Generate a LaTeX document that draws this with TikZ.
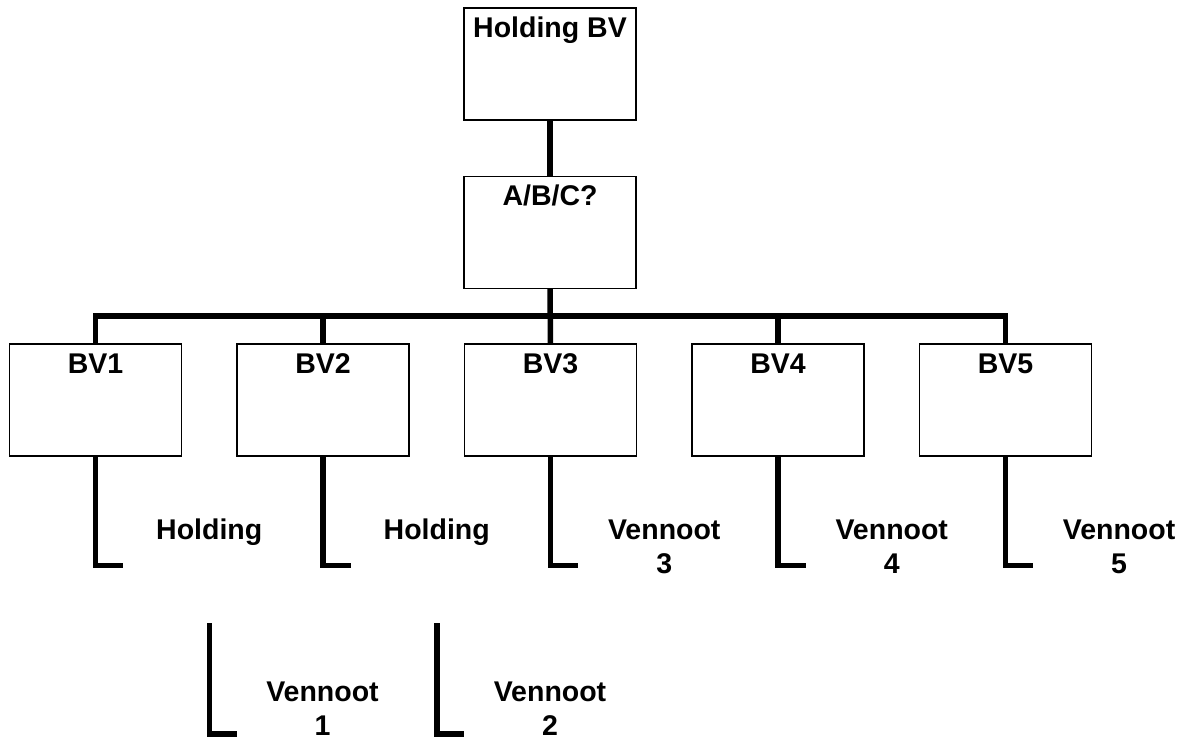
\documentclass[tikz,border=0pt]{standalone}
\usepackage{fontspec}
\setmainfont{Liberation Sans}
\usepackage{tikz}
\begin{document}
\begin{tikzpicture}[x=1pt,y=-1pt,
  company/.style={rectangle,draw=black,line width=1.4pt,minimum width=172pt,inner sep=0pt,
    text height=29pt,text depth=83pt,font=\fontsize{28.5}{34}\selectfont\bfseries},
  owner/.style={align=center,inner sep=0pt,anchor=base,font=\fontsize{28.5}{34}\selectfont\bfseries},
  link/.style={line width=5.5pt}]
\useasboundingbox (0,0) rectangle (1188,742);
% Companies
\node at (550,64) [company] (Top) {Holding BV};
\node at (550,232.5) [company] (ABC) {A/B/C?};
\node at (95.5,400) [company] (BV1) {BV1};
\node at (323,400) [company] (BV2) {BV2};
\node at (550.5,400) [company] (BV3) {BV3};
\node at (778,400) [company] (BV4) {BV4};
\node at (1005.5,400) [company] (BV5) {BV5};
% Owner Labels (base = last line)
\node at (209.25,539) [owner] (Hold1) {Holding};
\node at (436.75,539) [owner] (Hold2) {Holding};
\node at (664.25,573) [owner] (Ven3) {Vennoot\\3};
\node at (891.75,573) [owner] (Ven4) {Vennoot\\4};
\node at (1119,573) [owner] (Ven5) {Vennoot\\5};
\node at (322.5,735) [owner] (Ven1) {Vennoot\\1};
\node at (550,735) [owner] (Ven2) {Vennoot\\2};
% Free Ends
\coordinate (Bus) at (550,316);
\coordinate (Leg1) at (Hold1.base |- 0,623);
\coordinate (Leg2) at (Hold2.base |- 0,623);
% Node Connections
\draw [link] (Top) -- (ABC);
\draw [link] (ABC) -- (BV3);
\draw [link] (BV1.north) |- (Bus) -| (BV5.north);
\draw [link] (BV2.north) -- (BV2.north |- Bus);
\draw [link] (BV4.north) -- (BV4.north |- Bus);
\draw [link] (BV1.south) -- ++(0,109) -- ++(27.5,0);
\draw [link] (BV2.south) -- ++(0,109) -- ++(27.5,0);
\draw [link] (BV3.south) -- ++(0,109) -- ++(27.5,0);
\draw [link] (BV4.south) -- ++(0,109) -- ++(27.5,0);
\draw [link] (BV5.south) -- ++(0,109) -- ++(27.5,0);
\draw [link] (Leg1) -- ++(0,111) -- ++(27.5,0);
\draw [link] (Leg2) -- ++(0,111) -- ++(27.5,0);
\end{tikzpicture}
\end{document}
